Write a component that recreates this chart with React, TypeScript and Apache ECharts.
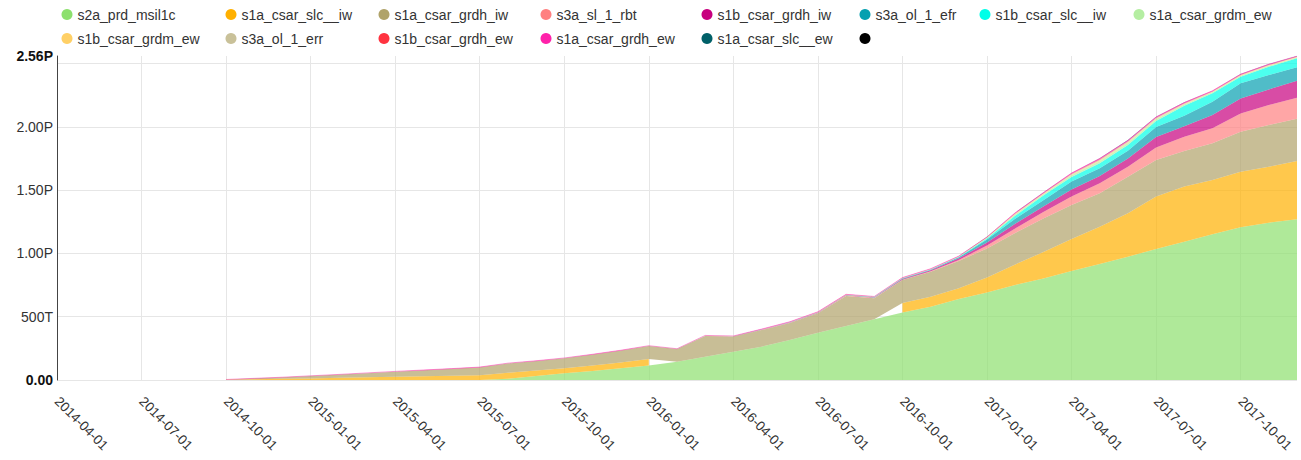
import React, { useEffect, useRef } from 'react';
import * as echarts from 'echarts';

const N = null;

const months = [
  '2014-04-01', '2014-05-01', '2014-06-01', '2014-07-01', '2014-08-01', '2014-09-01',
  '2014-10-01', '2014-11-01', '2014-12-01', '2015-01-01', '2015-02-01', '2015-03-01',
  '2015-04-01', '2015-05-01', '2015-06-01', '2015-07-01', '2015-08-01', '2015-09-01',
  '2015-10-01', '2015-11-01', '2015-12-01', '2016-01-01', '2016-02-01', '2016-03-01',
  '2016-04-01', '2016-05-01', '2016-06-01', '2016-07-01', '2016-08-01', '2016-09-01',
  '2016-10-01', '2016-11-01', '2016-12-01', '2017-01-01', '2017-02-01', '2017-03-01',
  '2017-04-01', '2017-05-01', '2017-06-01', '2017-07-01', '2017-08-01', '2017-09-01',
  '2017-10-01', '2017-11-01', '2017-12-01',
];

// values in TB
const s2aPrdMsil1c = [N, N, N, N, N, N, N, N, N, N, N, N, N, N, N, 0, 10, 32, 53, 71, 92, 115, 145, 184, 224, 263, 316, 374, 427, 480, 533, 579, 640, 691, 751, 802, 861, 916, 974, 1035, 1093, 1151, 1206, 1243, 1270];
const s1aCsarSlcIw = [N, N, N, N, N, N, 2, 6, 9, 12, 17, 21, 26, 30, 33, 37, 47, 43, 40, 43, 46, 51, N, N, N, N, N, N, N, N, 75, 79, 85, 119, 162, 209, 253, 295, 343, 415, 435, 429, 439, 442, 461];
const s1aCsarGrdhIw = [N, N, N, N, N, N, 2, 7, 13, 20, 26, 33, 40, 47, 55, 63, 74, 75, 79, 87, 95, 103, 100, 164, 119, 132, 134, 153, 237, 166, 182, 198, 216, 229, 249, 265, 269, 264, 289, 288, 282, 290, 316, 329, 334];
const s3aSl1Rbt = [N, N, N, N, N, N, N, N, N, N, N, N, N, N, N, N, N, N, N, N, N, N, N, 1, 1, 2, 2, 2, 3, 3, 3, 4, 8, 24, 36, 51, 67, 79, 79, 99, 111, 119, 145, 158, 166];
const s1bCsarGrdhIw = [N, N, N, N, N, N, N, N, N, N, N, N, N, N, N, N, N, N, N, N, N, N, N, N, 1, 1, 2, 2, 2, 3, 5, 7, 12, 24, 36, 43, 55, 58, 66, 83, 83, 105, 119, 124, 134];
const s3aOl1Efr = [N, N, N, N, N, N, N, N, N, N, N, N, N, N, N, N, N, N, N, N, N, N, N, 1, 1, 1, 1, 2, 2, 2, 4, 5, 8, 24, 40, 51, 63, 61, 60, 79, 83, 105, 119, 113, 106];
const s1bCsarSlcIw = [N, N, N, N, N, N, N, N, N, N, N, N, N, N, N, N, N, N, N, N, N, N, N, N, N, 0, 1, 1, 1, 1, 2, 2, 3, 8, 24, 36, 36, 40, 45, 47, 79, 66, 52, 66, 71];
const s1aCsarGrdmEw = [N, N, N, N, N, N, 0, 0, 0, 1, 1, 1, 1, 1, 1, 1, 1, 1, 1, 1, 1, 1, 1, 1, 1, 1, 2, 2, 2, 2, 2, 2, 3, 5, 10, 10, 13, 16, 16, 14, 11, 8, 8, 8, 7];
const s1bCsarGrdmEw = [N, N, N, N, N, N, N, N, N, N, N, N, N, N, N, N, N, N, N, N, N, N, N, N, N, 0, 0, 1, 1, 1, 1, 1, 1, 2, 4, 4, 5, 6, 6, 5, 4, 3, 3, 3, 3];
const s3aOl1Err = [N, N, N, N, N, N, N, N, N, N, N, N, N, N, N, N, N, N, N, N, N, N, N, 0, 0, 1, 1, 1, 1, 1, 1, 1, 1, 2, 3, 3, 5, 6, 6, 5, 4, 3, 3, 3, 3];
const s1bCsarGrdhEw = [N, N, N, N, N, N, N, N, N, N, N, N, N, N, N, N, N, N, N, N, N, N, N, N, N, 0, 0, 0, 0, 0, 0, 0, 1, 1, 2, 2, 3, 3, 3, 3, 2, 2, 2, 2, 1];
const s1aCsarGrdhEw = [N, N, N, N, N, N, 0, 0, 0, 0, 0, 1, 1, 1, 1, 1, 1, 1, 1, 1, 1, 1, 1, 1, 1, 1, 1, 1, 1, 1, 1, 1, 1, 1, 4, 4, 5, 6, 6, 5, 5, 4, 4, 4, 3];
const s1aCsarSlcEw = [N, N, N, N, N, N, N, N, N, N, N, N, N, N, N, N, N, N, N, N, N, N, N, N, N, 0, 0, 0, 0, 0, 0, 1, 1, 1, 1, 1, 1, 3, 3, 2, 2, 1, 1, 1, 1];
const unnamedValues: (number | null)[] = [];

const Y_MAX = 2560;
const Y_STEP = 500;

const seriesDefs = [
  { name: 's2a_prd_msil1c', color: '#8de06e', data: s2aPrdMsil1c },
  { name: 's1a_csar_slc__iw', color: '#ffb000', data: s1aCsarSlcIw },
  { name: 's1a_csar_grdh_iw', color: '#b0a36a', data: s1aCsarGrdhIw },
  { name: 's3a_sl_1_rbt', color: '#ff8080', data: s3aSl1Rbt },
  { name: 's1b_csar_grdh_iw', color: '#c7007f', data: s1bCsarGrdhIw },
  { name: 's3a_ol_1_efr', color: '#06a0b0', data: s3aOl1Efr },
  { name: 's1b_csar_slc__iw', color: '#00ffe8', data: s1bCsarSlcIw },
  { name: 's1a_csar_grdm_ew', color: '#b5eea2', data: s1aCsarGrdmEw },
  { name: 's1b_csar_grdm_ew', color: '#ffd066', data: s1bCsarGrdmEw },
  { name: 's3a_ol_1_err', color: '#c9c199', data: s3aOl1Err },
  { name: 's1b_csar_grdh_ew', color: '#ff3340', data: s1bCsarGrdhEw },
  { name: 's1a_csar_grdh_ew', color: '#ff22aa', data: s1aCsarGrdhEw, line: 1 },
  { name: 's1a_csar_slc__ew', color: '#006068', data: s1aCsarSlcEw },
  { name: ' ', color: '#000000', data: unnamedValues },
];

const legendColumns = [
  { left: 56.5, items: ['s2a_prd_msil1c', 's1b_csar_grdm_ew'] },
  { left: 220.5, items: ['s1a_csar_slc__iw', 's3a_ol_1_err'] },
  { left: 373.5, items: ['s1a_csar_grdh_iw', 's1b_csar_grdh_ew'] },
  { left: 535.5, items: ['s3a_sl_1_rbt', 's1a_csar_grdh_ew'] },
  { left: 696.5, items: ['s1b_csar_grdh_iw', 's1a_csar_slc__ew'] },
  { left: 854.5, items: ['s3a_ol_1_efr', ' '] },
  { left: 974.5, items: ['s1b_csar_slc__iw'] },
  { left: 1128.5, items: ['s1a_csar_grdm_ew'] },
];

const FONT = '"Liberation Sans", Arial, sans-serif';

function fmtY(v: number): string {
  if (v === 0) return '{b|0.00}';
  if (v === Y_MAX) return '{b|' + (v / 1000).toFixed(2) + 'P}';
  if (Y_MAX - v < 200) return '';
  if (v < 1000) return v + 'T';
  return (v / 1000).toFixed(2) + 'P';
}

export default function App() {
  const ref = useRef<HTMLDivElement>(null);
  useEffect(() => {
    if (!ref.current) return;
    const chart = echarts.init(ref.current, null, { renderer: 'svg' });
    const splitColors: string[] = [];
    for (let v = 0; v < Y_MAX; v += Y_STEP) splitColors.push('#e6e6e6');
    splitColors.push('rgba(0,0,0,0)');
    chart.setOption({
      animation: false,
      textStyle: { fontFamily: FONT },
      legend: legendColumns.map((c) => ({
        data: c.items,
        left: c.left,
        top: 2,
        orient: 'vertical',
        icon: 'circle',
        itemWidth: 11,
        itemHeight: 11,
        itemGap: 9,
        selectedMode: false,
        textStyle: { fontSize: 14, color: '#333', fontFamily: FONT, lineHeight: 15 },
      })),
      grid: { left: 57, right: 4, top: 56, bottom: 80 },
      xAxis: {
        type: 'category',
        data: months,
        boundaryGap: false,
        axisLine: { show: false },
        axisTick: { show: false },
        axisLabel: {
          interval: 2,
          rotate: -45,
          margin: 19,
          fontSize: 13.5,
          color: '#333',
          fontFamily: FONT,
        },
        splitLine: { show: true, interval: 2, lineStyle: { color: '#e6e6e6', width: 1 } },
      },
      yAxis: {
        type: 'value',
        min: 0,
        max: Y_MAX,
        interval: Y_STEP,
        axisLine: { show: true, lineStyle: { color: '#444', width: 1 } },
        axisTick: { show: false },
        axisLabel: {
          showMinLabel: true,
          showMaxLabel: true,
          margin: 4,
          fontSize: 14,
          color: '#333',
          fontFamily: FONT,
          formatter: fmtY,
          rich: { b: { fontWeight: 'bold', fontSize: 14, color: '#111', fontFamily: FONT } },
        },
        splitLine: { show: true, lineStyle: { color: splitColors, width: 1 } },
      },
      series: seriesDefs.map((s) => ({
        name: s.name,
        type: 'line',
        stack: 'total',
        data: s.data,
        showSymbol: false,
        symbol: 'none',
        color: s.color,
        itemStyle: { color: s.color },
        lineStyle: s.line ? { width: 1, color: s.color, opacity: 0.45 } : { width: 0 },
        areaStyle: { color: s.color, opacity: 0.7 },
        emphasis: { disabled: true },
        silent: true,
      })),
    });
    return () => chart.dispose();
  }, []);
  return (
    <div
      ref={ref}
      style={{ position: 'absolute', left: 0, top: 0, width: 1301, height: 460, background: '#fff' }}
    />
  );
}
